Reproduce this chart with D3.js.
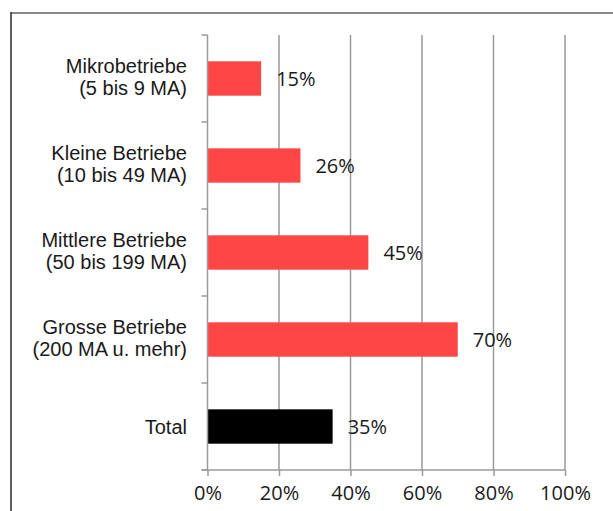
<!DOCTYPE html>
<html>
<head>
<meta charset="utf-8">
<script src="https://cdn.jsdelivr.net/npm/d3@7"></script>
<style>
  html, body { margin: 0; padding: 0; background: #ffffff; }
  svg { display: block; }
  text { font-family: "Open Sans", "Noto Sans", sans-serif; fill: #1a1a1a; }
</style>
</head>
<body>
<svg id="chart" width="613" height="511"></svg>
<script>
// Category labels (each entry is drawn as one or two lines)
const categories = [
  ["Mikrobetriebe", "(5 bis 9 MA)"],
  ["Kleine Betriebe", "(10 bis 49 MA)"],
  ["Mittlere Betriebe", "(50 bis 199 MA)"],
  ["Grosse Betriebe", "(200 MA u. mehr)"],
  ["Total"]
];
// Share in percent per category
const values = [15, 26, 45, 70, 35];
const barColors = ["#ff4646", "#ff4646", "#ff4646", "#ff4646", "#000000"];
// X axis ticks (percent)
const xTicks = [0, 20, 40, 60, 80, 100];

const svg = d3.select("#chart");

// Outer frame
svg.append("line").attr("x1", 11).attr("x2", 613).attr("y1", 13).attr("y2", 13)
  .attr("stroke", "#8a8a8a").attr("stroke-width", 2);
svg.append("line").attr("x1", 11).attr("x2", 11).attr("y1", 12).attr("y2", 511)
  .attr("stroke", "#2a2a2a").attr("stroke-width", 1.5);

const plot = { left: 207.5, right: 565, top: 35, bottom: 470 };

const x = d3.scaleLinear().domain([0, 100]).range([plot.left, plot.right]);
const y = d3.scaleBand()
  .domain(d3.range(categories.length))
  .range([plot.top, plot.bottom])
  .paddingInner(0.605)
  .paddingOuter(0.3025);

const axisColor = "#9a9a9a";

// Vertical gridlines
svg.append("g").selectAll("line")
  .data(xTicks.slice(1))
  .join("line")
  .attr("x1", d => x(d)).attr("x2", d => x(d))
  .attr("y1", plot.top).attr("y2", plot.bottom)
  .attr("stroke", axisColor).attr("stroke-width", 1.5);

// Bars
svg.append("g").selectAll("rect")
  .data(values)
  .join("rect")
  .attr("x", x(0))
  .attr("y", (d, i) => y(i))
  .attr("width", d => x(d) - x(0))
  .attr("height", y.bandwidth())
  .attr("fill", (d, i) => barColors[i]);

// Value labels
svg.append("g").selectAll("text")
  .data(values)
  .join("text")
  .attr("x", d => x(d) + 15)
  .attr("y", (d, i) => y(i) + y.bandwidth() / 2)
  .attr("dy", "0.36em")
  .style("font-size", "20px")
  .text(d => d + "%");

// X axis
const xAxis = d3.axisBottom(x)
  .tickValues(xTicks)
  .tickFormat(d => d + "%")
  .tickSizeInner(6)
  .tickSizeOuter(0)
  .tickPadding(10);
const gx = svg.append("g")
  .attr("transform", `translate(0,${plot.bottom})`)
  .call(xAxis);
gx.select(".domain").remove();
gx.append("line")
  .attr("x1", plot.left - 6).attr("x2", plot.right)
  .attr("stroke", axisColor).attr("stroke-width", 1.5);
gx.selectAll(".tick line").attr("stroke", axisColor).attr("stroke-width", 1.5);
gx.selectAll(".tick text")
  .style("font-size", "20px")
  .style("font-family", "\"Open Sans\", sans-serif")
  .attr("fill", "#1a1a1a");

// Y axis: line with ticks at the category boundaries
const gy = svg.append("g");
gy.append("line")
  .attr("x1", plot.left).attr("x2", plot.left)
  .attr("y1", plot.top).attr("y2", plot.bottom)
  .attr("stroke", axisColor).attr("stroke-width", 1.5);
const boundaries = d3.range(categories.length + 1)
  .map(i => plot.top + i * y.step());
gy.selectAll("line.tick")
  .data(boundaries)
  .join("line")
  .attr("class", "tick")
  .attr("x1", plot.left - 6).attr("x2", plot.left)
  .attr("y1", d => d).attr("y2", d => d)
  .attr("stroke", axisColor).attr("stroke-width", 1.5);

// Category labels: one text element per line, compact font so the
// two lines of a label sit close together without colliding
const lineGap = 22.5;
const labelRows = categories.flatMap((lines, i) =>
  lines.map((t, k) => ({ t, i, k, n: lines.length })));
svg.append("g").selectAll("text")
  .data(labelRows)
  .join("text")
  .attr("text-anchor", "end")
  .attr("x", 187)
  .attr("y", d => {
    const c = y(d.i) + y.bandwidth() / 2;
    return (d.n > 1 ? c - 6 : c + 7) + d.k * lineGap;
  })
  .style("font-family", "\"Liberation Sans\", Arial, sans-serif")
  .style("font-size", "20px")
  .text(d => d.t);
</script>
</body>
</html>
